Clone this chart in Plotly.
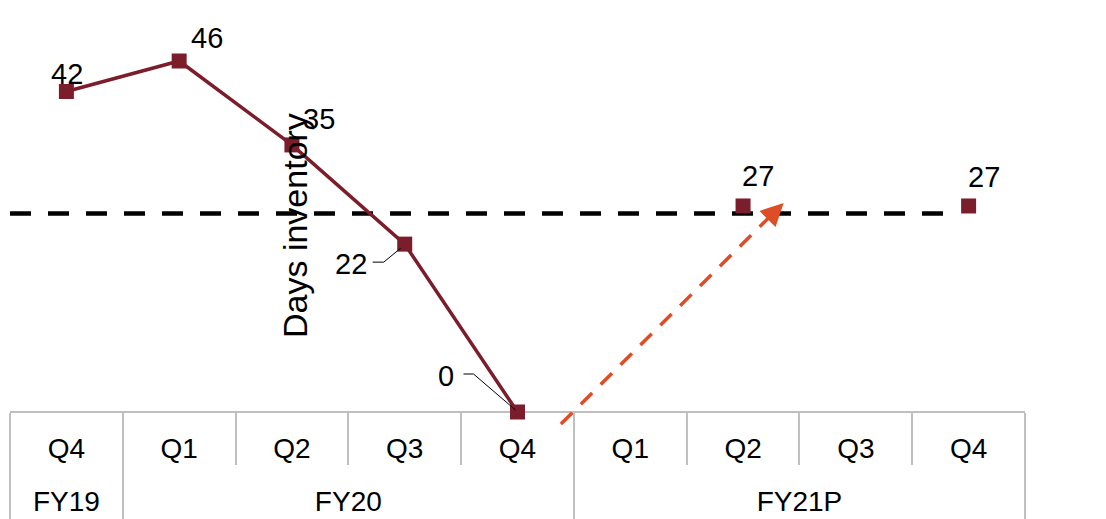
import plotly.graph_objects as go

# ---- data ----
years = ["FY19", "FY20", "FY20", "FY20", "FY20", "FY21P", "FY21P", "FY21P", "FY21P"]
quarters = ["Q4", "Q1", "Q2", "Q3", "Q4", "Q1", "Q2", "Q3", "Q4"]
actual = [42, 46, 35, 22, 0, None, None, None, None]
projected = [None, None, None, None, None, None, 27, None, 27]
target_value = 26
axis_title = "Days inventory"

# ---- geometry / style ----
W, H = 1106, 519
ML, MR = 10, 81
zero_px = 412.0
px_per_unit = (412.0 - 61.0) / 46.0
y_top = zero_px / px_per_unit
y_bot = -(H - zero_px) / px_per_unit
n = len(quarters)
xpos = list(range(n))
x_px_per_cat = (W - ML - MR) / n

# year groups derived from the category list
groups = []
for i, yv in enumerate(years):
    if groups and groups[-1][0] == yv:
        groups[-1][2] = i
    else:
        groups.append([yv, i, i])
group_names = [g[0] for g in groups]
group_centers = [(g[1] + g[2]) / 2 for g in groups]
group_bounds = [groups[0][1] - 0.5] + [g[2] + 0.5 for g in groups]
inner_bounds = [i + 0.5 for i in range(n - 1)]

MAROON = "#7B1D2B"
ORANGE = "#DE4D26"
GRID = "#BFBFBF"
FONT = "Liberation Sans, Arial, sans-serif"
axis_pos = (H - zero_px) / H

fig = go.Figure()

# target dashed line
fig.add_trace(go.Scatter(
    x=[-0.5, 7.9], y=[target_value, target_value],
    mode="lines", line=dict(color="black", width=4.5, dash="21px,17px"),
    hoverinfo="skip", showlegend=False))

# orange projection arrow (dashed shaft)
arrow_start = (4.385, -1.57)
arrow_end = (6.36, 27.4)
back_px = 12
dxp = (arrow_end[0] - arrow_start[0]) * x_px_per_cat
dyp = (arrow_end[1] - arrow_start[1]) * px_per_unit
L = (dxp ** 2 + dyp ** 2) ** 0.5
shaft_end = (arrow_end[0] - dxp / L * back_px / x_px_per_cat,
             arrow_end[1] - dyp / L * back_px / px_per_unit)
fig.add_trace(go.Scatter(
    x=[arrow_start[0], shaft_end[0]], y=[arrow_start[1], shaft_end[1]],
    mode="lines", line=dict(color=ORANGE, width=3.5, dash="16px,12px"),
    hoverinfo="skip", showlegend=False))

# data series
fig.add_trace(go.Scatter(
    x=xpos, y=actual, mode="lines+markers",
    line=dict(color=MAROON, width=3.5),
    marker=dict(symbol="square", size=15, color=MAROON),
    showlegend=False, cliponaxis=False))
fig.add_trace(go.Scatter(
    x=xpos, y=projected, mode="markers",
    marker=dict(symbol="square", size=15, color=MAROON),
    showlegend=False, cliponaxis=False))

annotations = []
annotations.append(dict(
    x=arrow_end[0], y=arrow_end[1], xref="x", yref="y",
    ax=shaft_end[0], ay=shaft_end[1], axref="x", ayref="y",
    showarrow=True, arrowhead=2, arrowsize=1.3, arrowwidth=3.5,
    arrowcolor=ORANGE, text=""))

label_shift = {0: (1, 18), 1: (28, 23), 2: (27, 26), 3: (-54, -20),
               4: (-72, 36), 6: (15, 30), 8: (15, 29)}
for i in range(n):
    v = actual[i] if actual[i] is not None else projected[i]
    if v is None:
        continue
    sx, sy = label_shift[i]
    annotations.append(dict(
        x=xpos[i], y=v, xref="x", yref="y", text=str(v), showarrow=False,
        xshift=sx, yshift=sy, font=dict(family=FONT, size=29, color="black")))

annotations.append(dict(
    x=(295 - ML) / (W - ML - MR), y=1 - 226 / H, xref="paper", yref="paper",
    xanchor="center", yanchor="middle",
    text=axis_title, textangle=-90, showarrow=False,
    font=dict(family=FONT, size=34, color="black")))

shapes = []
leader = {3: "M-4,-4 L-21,-18 L-32,-18", 4: "M-2,2 L-44,38 L-54,38"}
for i, p in leader.items():
    shapes.append(dict(
        type="path", xref="x", yref="y", xsizemode="pixel", ysizemode="pixel",
        xanchor=xpos[i], yanchor=actual[i], path=p,
        line=dict(color="black", width=1)))

fig.update_layout(
    width=W, height=H, margin=dict(l=ML, r=MR, t=0, b=0),
    paper_bgcolor="white", plot_bgcolor="white",
    font=dict(family=FONT, size=28, color="black"),
    xaxis=dict(
        anchor="free", position=axis_pos, range=[-0.5, n - 0.5],
        layer="below traces",
        showline=True, linecolor=GRID, linewidth=1.5,
        tickmode="array", tickvals=xpos, ticktext=quarters, ticks="",
        ticklabelstandoff=12,
        minor=dict(tickmode="array", tickvals=inner_bounds, ticks="outside",
                   ticklen=52, tickcolor=GRID, tickwidth=1.5, showgrid=False),
        showgrid=False, zeroline=False,
        tickfont=dict(family=FONT, size=28, color="black")),
    xaxis2=dict(
        overlaying="x", anchor="free", position=axis_pos, range=[-0.5, n - 0.5],
        layer="below traces",
        showline=False, tickmode="array", tickvals=group_centers,
        ticktext=group_names, ticks="", ticklabelstandoff=70,
        minor=dict(tickmode="array", tickvals=group_bounds, ticks="outside",
                   ticklen=110, tickcolor=GRID, tickwidth=1.5, showgrid=False),
        showgrid=False, zeroline=False,
        tickfont=dict(family=FONT, size=28, color="black")),
    yaxis=dict(domain=[0, 1], range=[y_bot, y_top], visible=False),
    annotations=annotations, shapes=shapes,
)
# an invisible trace so xaxis2 is drawn
fig.add_trace(go.Scatter(x=[group_centers[0]], y=[None], xaxis="x2", yaxis="y",
                         mode="markers", showlegend=False, hoverinfo="skip"))

fig.write_html("out.html")
